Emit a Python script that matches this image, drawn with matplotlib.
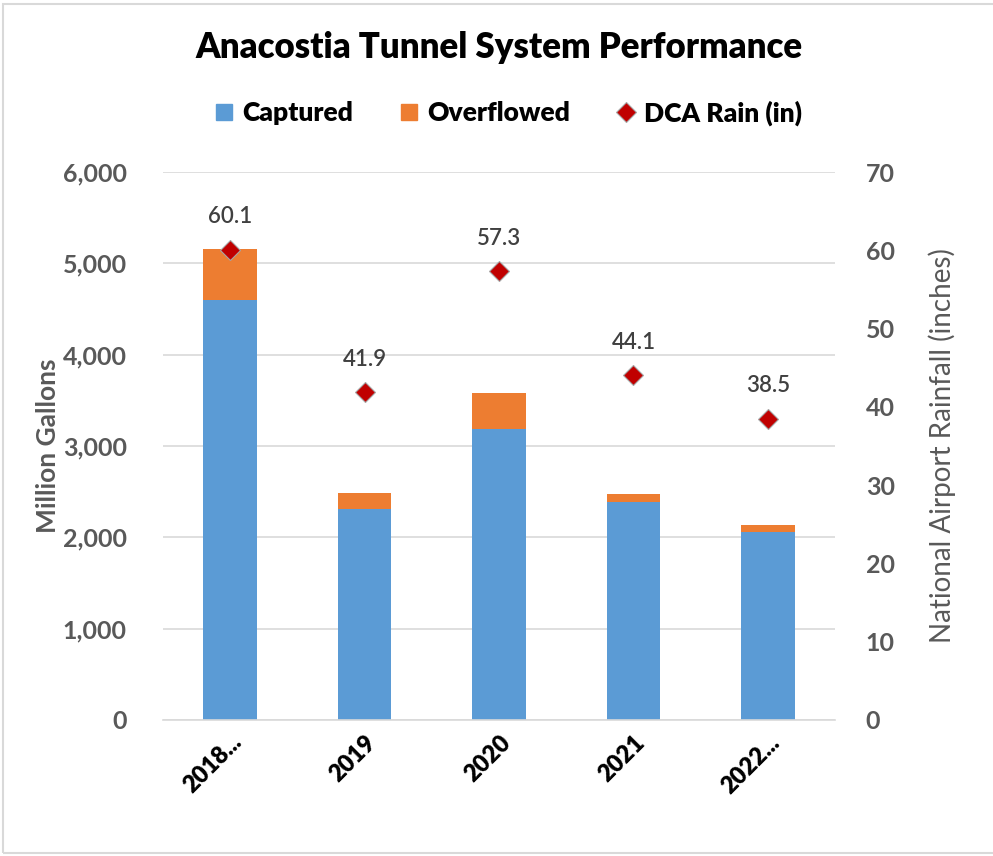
import matplotlib
matplotlib.use("Agg")
import matplotlib.pyplot as plt
from matplotlib.patches import Rectangle
from matplotlib.lines import Line2D
from matplotlib.ticker import FuncFormatter

plt.rcParams['font.family'] = ['Lato', 'DejaVu Sans']

years = ["2018...", "2019", "2020", "2021", "2022..."]
captured = [4600, 2310, 3190, 2390, 2060]
overflowed = [560, 170, 390, 80, 70]
rain = [60.1, 41.9, 57.3, 44.1, 38.5]

blue = "#5B9BD5"
orange = "#ED7D31"
red = "#C00000"
gray = "#595959"

fig = plt.figure(figsize=(9.93, 8.56), dpi=100)
ax = fig.add_axes([0.164, 0.159, 0.677, 0.640])
ax2 = ax.twinx()

x = list(range(len(years)))
ax.bar(x, captured, width=0.4, color=blue, zorder=2)
ax.bar(x, overflowed, width=0.4, bottom=captured, color=orange, zorder=2)

ax.set_xlim(-0.5, len(years) - 0.5)
ax.set_ylim(0, 6000)
ax.set_yticks(range(0, 6001, 1000))
ax.yaxis.set_major_formatter(FuncFormatter(lambda v, p: f"{int(v):,}"))
ax.grid(axis='y', color="#D9D9D9", linewidth=1.2, zorder=0)
ax.set_axisbelow(True)
for s in ['top', 'right', 'left']:
    ax.spines[s].set_visible(False)
ax.spines['bottom'].set_color("#D9D9D9")
ax.spines['bottom'].set_linewidth(1.2)
ax.tick_params(axis='y', length=0, pad=26, labelsize=18, labelcolor=gray)
ax.tick_params(axis='x', length=0, pad=8)
ax.set_xticks(x)
ax.set_xticklabels(years, rotation=45, ha='right', rotation_mode='anchor',
                   fontsize=17, fontweight='heavy', color='black')
for lab in ax.get_yticklabels():
    lab.set_fontweight('bold')
ax.set_ylabel("Million Gallons", fontsize=19, fontweight='bold', color=gray, labelpad=2)

ax2.plot(x, rain, linestyle='none', marker='D', markersize=10, color=red,
         markeredgecolor="#A6A6A6", markeredgewidth=0.8, zorder=3)
for xi, r in zip(x, rain):
    ax2.annotate(f"{r}", (xi, r), textcoords='offset points', xytext=(0, 16),
                 ha='center', va='bottom', fontsize=16, fontweight='semibold', color="#404040")
ax2.set_ylim(0, 70)
ax2.set_yticks(range(0, 71, 10))
for s in ['top', 'right', 'left', 'bottom']:
    ax2.spines[s].set_visible(False)
ax2.tick_params(axis='y', length=0, pad=22, labelsize=18, labelcolor=gray)
for lab in ax2.get_yticklabels():
    lab.set_fontweight('bold')
ax2.set_ylabel("National Airport Rainfall (inches)", fontsize=20, color=gray, labelpad=24)

fig.text(0.503, 0.945, "Anacostia Tunnel System Performance", ha='center', va='center',
         fontsize=25, fontweight='heavy', color='black')

handles = [
    Line2D([], [], linestyle='none', marker='s', markersize=12, color=blue),
    Line2D([], [], linestyle='none', marker='s', markersize=12, color=orange),
    Line2D([], [], linestyle='none', marker='D', markersize=10, color=red,
           markeredgecolor="#A6A6A6", markeredgewidth=0.8),
]
fig.legend(handles, ["Captured", "Overflowed", "DCA Rain (in)"], loc='center',
           bbox_to_anchor=(0.51, 0.868), ncol=3, frameon=False,
           handletextpad=0.2, columnspacing=1.6, handlelength=1.0,
           prop={'weight': 'heavy', 'size': 19})

fig.patches.append(Rectangle((0.003, 0.003), 1.2, 0.992, transform=fig.transFigure,
                             fill=False, edgecolor="#D9D9D9", linewidth=1.5))

fig.savefig("out.png", dpi=100)
